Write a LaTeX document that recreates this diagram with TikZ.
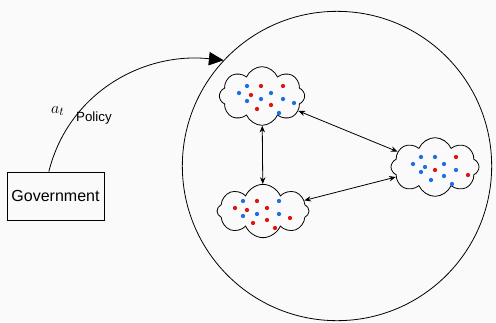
\documentclass[tikz,border=0pt]{standalone}
\usepackage{fontspec}
\setmainfont{Liberation Sans}
\usepackage{tikz}
\usetikzlibrary{shapes.symbols,arrows.meta}
\definecolor{dotblue}{RGB}{30,110,230}
\definecolor{dotred}{RGB}{225,20,20}
\definecolor{paper}{RGB}{250,250,250}

\begin{document}
\begin{tikzpicture}[x=0.75pt,y=-0.75pt,line width=0.6pt,
  blob/.style={cloud, draw, cloud puffs=8, cloud puff arc=135, inner sep=0pt},
  bdot/.style={fill=dotblue},
  rdot/.style={fill=dotred}]
  \useasboundingbox[fill=paper] (0,0) rectangle (496,322);
  \node[circle, draw, minimum size=232pt, inner sep=0pt] (world) at (337,166) {};
  \node[draw, minimum width=71pt, minimum height=36pt, font=\fontsize{12}{14}\selectfont] (gov) at (55.5,196) {Government};
  \node[blob, minimum width=64pt, minimum height=44pt] (c1) at (262,96) {};
  \node[blob, minimum width=69pt, minimum height=40pt] (c2) at (263,211) {};
  \node[blob, minimum width=66pt, minimum height=44pt] (c3) at (435,167) {};
  % agents
  \foreach \p in {(247,86),(239,93),(247,101),(261,99),(271,93),(283,99),(294,103),(279,113),
    (243,201),(279,201),(243,216),(257,214),(279,214),
    (421,157),(435,157),(413,164),(425,167),(444,164),(421,172),(456,170),(444,176),(431,180),(452,184)}
    \fill[bdot] \p circle (1.6pt);
  \foreach \p in {(261,86),(283,86),(251,95),(271,105),(257,109),
    (257,201),(235,208),(247,210),(267,208),(290,218),(253,223),(267,220),(275,228),
    (456,157),(435,170),(468,175)}
    \fill[rdot] \p circle (1.6pt);
  \path[{Stealth[length=5pt,width=4pt]}-{Stealth[length=5pt,width=4pt]}]
  (c1) edge (c2)
  edge (c3)
  (c2) edge (c3);
  \draw[-{Triangle[length=11pt,width=10pt]}] ([xshift=-5pt]gov.north) to[out=76,in=174]
    node[pos=0.3, left=8pt, font=\fontsize{13}{15}\selectfont] {$a_t$}
    node[pos=0.26, right=0pt, inner sep=1pt, font=\fontsize{10}{12}\selectfont] {Policy} (world.137);
\end{tikzpicture}
\end{document}
